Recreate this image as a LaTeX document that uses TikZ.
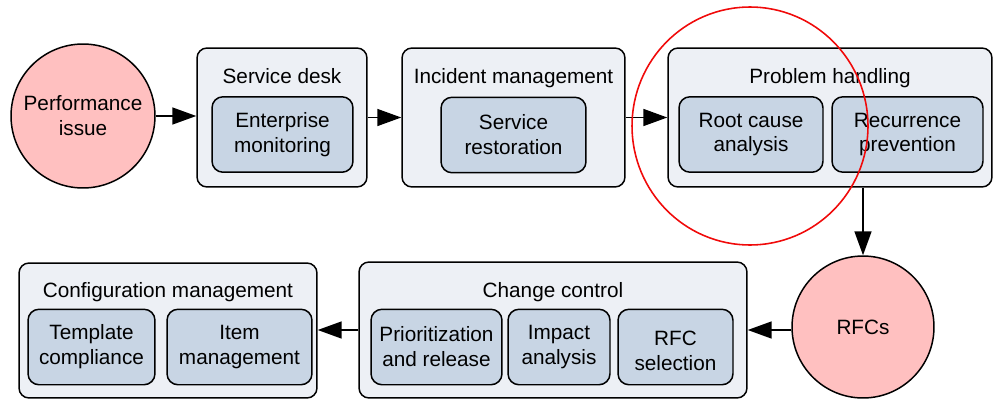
\documentclass[tikz,border=0pt]{standalone}
\usepackage{fontspec}
\setmainfont{Liberation Sans}
\usetikzlibrary{arrows.meta,shapes.geometric}
\definecolor{outerfill}{RGB}{237,240,245}
\definecolor{innerfill}{RGB}{200,213,228}
\definecolor{pinkfill}{RGB}{255,192,192}
\definecolor{hlred}{RGB}{240,10,10}
\tikzset{
  txt/.style={font=\fontsize{11.8pt}{14.2pt}\selectfont, align=center},
  outerbox/.style={draw=black, line width=0.85pt, fill=outerfill, rounded corners=0.2cm, inner sep=0pt},
  innerbox/.style={txt, draw=black, line width=0.85pt, fill=innerfill, rounded corners=0.22cm, inner sep=0pt, minimum height=1.51cm},
  event/.style={txt, circle, draw=black, line width=0.85pt, fill=pinkfill, inner sep=0pt},
  title/.style={txt, anchor=base},
  flow/.style={line width=0.9pt, -{Triangle[length=0.48cm,width=0.34cm]}},
}
\begin{document}
\begin{tikzpicture}[x=0.02cm,y=-0.02cm]
\useasboundingbox (0,0) rectangle (1000,399);
% top row
\node[event, minimum size=2.88cm] (perf) at (83,116) {Performance\\issue};

\node[outerbox, minimum width=3.40cm, minimum height=2.78cm] (sd) at (282,117.5) {};
\node[title] (sdt) at (282,83) {Service desk};
\node[innerbox, minimum width=2.82cm] (sdi) at (282.5,134.5) {Enterprise\\monitoring};

\node[outerbox, minimum width=4.46cm, minimum height=2.78cm] (im) at (513.5,117.5) {};
\node[title] (imt) at (513.5,83) {Incident management};
\node[innerbox, minimum width=2.90cm] (imi) at (513.5,135) {Service\\restoration};

\node[outerbox, minimum width=6.48cm, minimum height=2.78cm] (ph) at (830,117.5) {};
\node[title] (pht) at (830,83) {Problem handling};
\node[innerbox, minimum width=2.88cm] (phi1) at (751,134.5) {Root cause\\analysis};
\node[innerbox, minimum width=3.02cm] (phi2) at (907.5,134.5) {Recurrence\\prevention};

% bottom row
\node[event, minimum size=2.84cm] (rfc) at (863,327) {RFCs};

\node[outerbox, minimum width=7.76cm, minimum height=2.72cm] (cc) at (553,330) {};
\node[title] (cct) at (553,297) {Change control};
\node[innerbox, minimum width=2.62cm] (cci1) at (436.5,347) {Prioritization\\and release};
\node[innerbox, minimum width=2.04cm] (cci2) at (559,347) {Impact\\analysis};
\node[innerbox, minimum width=2.30cm] (cci3) at (675.5,347) {};
\node[txt] (cci3t) at (675.5,351) {RFC\\selection};

\node[outerbox, minimum width=5.96cm, minimum height=2.70cm] (cm) at (168,330.5) {};
\node[title] (cmt) at (168,297) {Configuration management};
\node[innerbox, minimum width=2.54cm] (cmi1) at (91.5,347) {Template\\compliance};
\node[innerbox, minimum width=2.90cm] (cmi2) at (239.5,347) {Item\\management};

% connectors
\draw[flow] (perf.east) -- (perf.east -| sd.west);
\draw[flow] (sd.east) -- (sd.east -| im.west);
\draw[flow] (im.east) -- (im.east -| ph.west);
\draw[flow] (rfc.north |- ph.south) -- (rfc.north);
\draw[flow] (rfc.west |- cc.east) -- (cc.east);
\draw[flow] (cc.west) -- (cc.west -| cm.east);

% highlight
\node[ellipse, draw=hlred, line width=0.9pt, inner sep=0pt, minimum width=4.72cm, minimum height=4.76cm] (hl) at (750,126) {};
\end{tikzpicture}
\end{document}
